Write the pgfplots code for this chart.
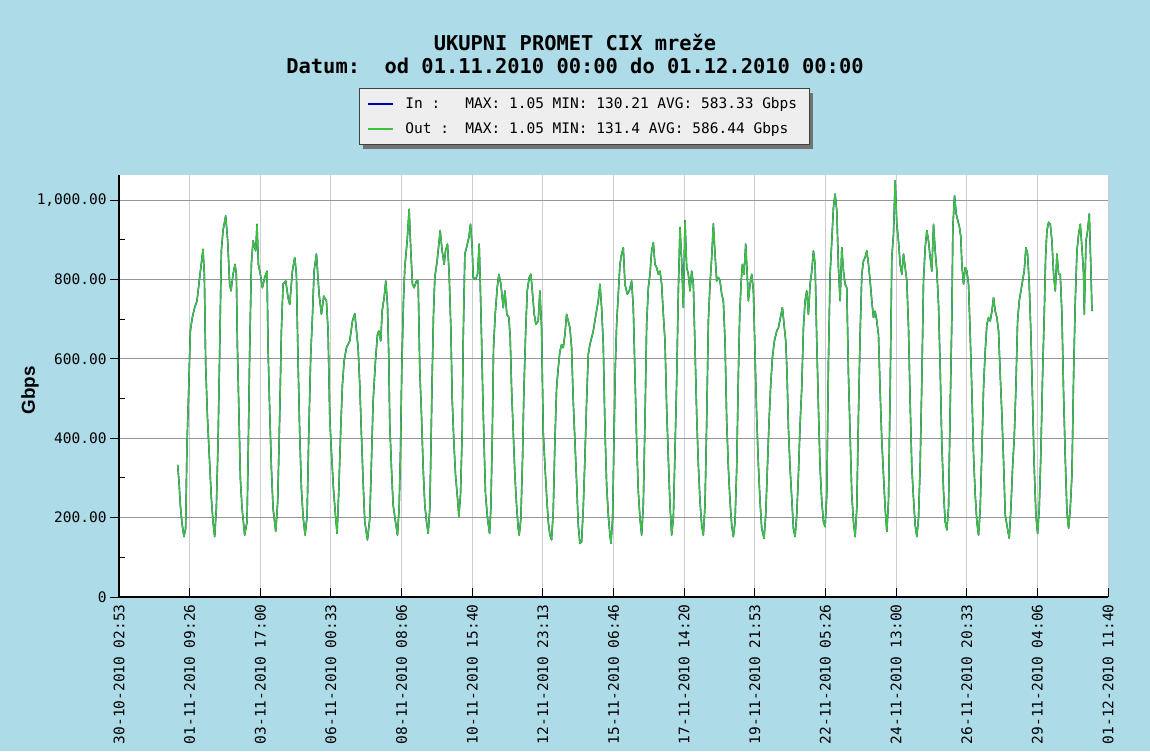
\documentclass[border=0pt]{standalone}
\usepackage{pgfplots}
\pgfplotsset{compat=1.18}
\usepackage{pgfplotstable}
\usepackage{fontspec}
\usetikzlibrary{shadows}
\newfontfamily\mono{DejaVu Sans Mono}
\newfontfamily\arial{Liberation Sans}
\definecolor{bgblue}{RGB}{173,219,232}
\definecolor{inblue}{RGB}{0,0,170}
\definecolor{outgreen}{RGB}{60,195,60}
\definecolor{hgrid}{RGB}{150,150,150}
\definecolor{vgrid}{RGB}{205,205,205}
\definecolor{legfill}{RGB}{238,238,238}
\makeatletter
\tikzset{no preactions/.code={\let\tikz@preactions\pgfutil@empty}}
\makeatother

% Hours since 01-11-2010 00:00, traffic in Gbps (In and Out nearly identical)
\pgfplotstableread{
h v
0.00 333
1.05 291
2.10 232
3.41 186
4.98 152
6.30 173
7.35 384
8.66 518
9.97 670
11.54 704
13.38 729
15.22 746
17.31 805
18.89 847
19.94 876
20.99 813
22.04 586
23.35 459
25.18 337
26.50 249
27.81 190
29.12 152
30.43 224
31.74 384
33.05 619
34.37 872
35.68 923
37.78 960
39.35 897
40.92 788
41.97 771
43.55 813
45.12 838
46.17 813
46.96 636
48.27 451
49.32 299
50.63 224
52.73 156
54.57 190
55.61 392
56.66 619
57.98 838
59.29 897
61.39 872
62.43 939
63.48 838
65.06 813
66.63 779
68.47 805
70.30 821
71.09 628
72.40 468
73.72 325
75.03 224
77.13 165
78.70 241
80.27 459
81.59 670
82.90 788
85.00 796
86.83 754
88.14 737
90.24 821
92.08 855
93.39 813
94.70 594
96.01 409
97.32 274
98.64 203
100.21 156
101.78 203
103.10 409
104.67 611
105.98 704
107.29 821
109.13 864
111.23 763
113.06 712
114.90 758
117.00 746
118.31 670
119.62 451
121.20 350
122.51 274
124.08 207
125.39 160
126.71 266
128.28 426
129.59 535
130.90 594
132.74 628
135.36 645
137.46 695
139.30 714
141.91 628
143.22 535
144.54 409
145.85 291
147.16 190
149.26 144
151.09 198
152.41 341
153.72 493
155.55 594
157.13 661
158.18 670
159.75 645
160.80 720
162.37 754
163.69 796
165.00 737
166.00 610
166.83 434
168.15 325
169.46 232
171.29 190
172.87 156
174.18 224
175.23 367
176.28 577
177.59 746
178.64 830
180.48 897
182.05 977
183.36 872
184.67 788
185.99 779
187.82 796
189.13 796
190.45 569
191.76 459
193.07 325
194.38 232
195.69 190
197.02 160
198.31 224
199.10 358
200.15 552
201.20 712
202.25 805
204.09 847
205.66 897
206.45 923
208.02 872
209.59 838
210.64 872
212.22 889
213.53 813
214.84 678
215.89 501
217.20 392
218.51 308
220.09 249
221.14 203
222.45 258
223.76 413
224.55 645
225.86 864
227.17 880
229.01 906
230.32 939
231.63 880
232.42 805
234.25 800
235.83 813
237.14 889
237.93 796
238.98 653
240.02 501
241.07 375
242.12 258
243.70 198
245.27 160
246.32 224
247.37 392
248.42 628
249.73 712
251.31 779
252.62 813
254.19 788
256.03 729
257.34 771
258.92 712
260.49 704
261.54 653
262.59 527
263.90 417
265.21 308
266.52 232
267.83 173
268.62 156
269.93 198
271.24 350
272.29 518
273.60 661
274.91 771
276.49 805
277.80 813
279.11 763
280.42 712
281.74 687
283.57 695
284.88 771
286.19 678
287.50 417
288.81 333
290.13 258
291.44 190
292.75 156
294.06 144
295.37 215
296.68 392
298.00 527
299.31 577
300.62 619
301.93 636
303.24 628
304.55 661
305.87 712
307.18 695
308.49 678
309.80 628
311.11 493
312.42 392
313.74 291
315.05 181
316.36 135
317.67 139
318.98 224
320.29 350
321.61 493
322.92 611
324.23 636
326.85 670
328.95 712
330.79 746
332.10 788
333.41 729
334.72 636
336.03 426
337.35 283
338.66 207
339.97 156
340.76 135
342.07 198
343.12 392
344.17 577
345.22 687
346.53 763
347.84 838
349.15 864
350.46 880
351.77 788
353.61 763
355.18 771
357.02 796
358.33 729
359.64 560
360.96 392
362.27 266
363.58 198
364.89 156
366.20 232
367.51 443
368.83 687
370.14 779
371.45 813
372.76 872
374.07 893
375.38 838
376.70 830
378.01 813
379.32 821
380.63 788
381.94 712
383.25 645
384.57 476
385.88 350
387.19 232
388.50 156
389.81 198
391.12 367
392.44 544
393.75 771
395.06 931
396.37 847
397.68 729
398.99 948
400.31 830
401.62 813
402.93 771
404.24 821
405.55 788
406.86 628
408.18 459
409.49 333
410.80 241
412.11 181
413.42 156
414.73 232
416.05 443
417.36 695
418.67 788
419.98 855
421.29 940
422.60 864
423.92 796
425.23 805
426.54 796
427.85 763
429.16 746
430.47 645
431.78 443
433.09 325
434.40 241
435.72 181
437.03 152
438.34 190
439.65 325
440.96 560
442.01 712
443.06 788
444.11 838
445.42 813
446.73 889
447.78 821
448.83 746
450.14 788
451.46 813
452.77 771
454.08 611
455.39 451
456.70 333
458.01 241
459.33 173
461.16 148
462.47 207
463.79 325
465.10 443
466.41 535
467.72 603
469.29 645
471.13 670
472.44 678
474.54 712
475.59 729
477.16 678
478.21 645
479.26 560
480.31 426
481.62 325
482.94 249
484.25 173
485.56 152
486.87 207
488.18 308
489.49 434
490.81 527
492.12 678
493.43 746
494.74 771
496.05 712
497.36 788
498.68 821
499.99 872
501.30 838
502.61 645
503.92 476
505.23 325
506.55 241
507.86 190
509.17 177
510.48 258
511.79 594
513.10 813
514.42 897
515.73 981
517.04 1015
518.35 973
519.66 830
520.97 746
522.29 880
523.60 821
524.91 788
526.22 779
527.53 560
528.84 409
530.16 258
531.47 190
532.78 152
534.09 224
535.40 459
536.71 661
538.03 813
539.34 847
540.65 855
541.96 872
543.27 838
544.58 796
545.90 746
547.21 704
548.52 720
549.83 695
551.14 661
552.45 518
553.77 392
555.08 308
556.39 224
557.70 165
559.01 241
560.32 518
561.64 855
562.95 914
564.26 1049
565.57 939
566.88 897
568.19 838
569.51 813
570.82 864
572.13 830
573.44 796
574.75 678
576.06 490
577.37 325
578.68 249
579.99 181
581.31 152
582.62 198
583.93 333
585.24 544
586.55 796
587.86 880
589.18 923
590.49 897
591.80 855
593.11 821
594.42 939
595.73 872
597.05 821
598.36 737
599.67 577
600.98 384
602.29 266
603.60 190
604.92 169
606.23 224
607.54 476
608.85 704
609.64 931
610.95 1011
612.26 965
613.57 948
614.88 931
615.93 906
616.72 838
618.03 788
619.34 830
620.65 821
621.96 788
623.28 661
624.59 518
625.90 358
627.21 258
628.52 190
629.83 156
631.15 224
632.46 367
633.77 527
635.08 619
636.39 687
637.70 704
639.02 695
640.33 720
641.64 754
642.95 720
644.26 704
645.57 670
646.89 560
648.20 459
649.51 341
650.82 207
652.13 181
653.97 148
655.28 224
656.59 325
657.90 400
659.22 527
660.53 695
661.84 746
663.15 771
664.46 796
665.77 821
667.09 880
668.40 864
669.71 788
671.02 661
672.33 493
673.64 325
674.96 207
676.27 160
677.58 224
678.89 367
680.20 560
681.51 712
682.56 855
683.61 923
684.92 944
686.23 939
687.55 897
688.86 813
690.17 771
691.48 864
692.79 813
694.10 813
695.42 712
696.73 510
698.04 350
699.35 215
700.66 173
701.97 224
703.29 308
704.60 560
705.91 746
707.22 872
708.53 914
709.84 939
711.16 880
712.47 813
712.99 712
714.31 897
715.62 923
716.93 965
718.24 821
719.03 720
}\cixdata

\begin{document}
\begin{tikzpicture}
\fill[bgblue] (0pt,0pt) rectangle (575pt,375.5pt);
\begin{axis}[
  at={(59.5pt,77pt)}, anchor=south west,
  scale only axis, width=494.5pt, height=211pt,
  xmin=-46.122, xmax=731.656, ymin=0, ymax=1063,
  axis background/.style={fill=white},
  axis x line*=bottom, axis y line*=left,
  axis line style={black, line width=0.6pt},
  xtick={-46.122,9.433,64.989,120.544,176.100,231.656,287.211,342.767,398.322,453.878,509.433,564.989,620.544,676.100,731.656},
  xticklabels={30-10-2010 02:53,01-11-2010 09:26,03-11-2010 17:00,06-11-2010 00:33,08-11-2010 08:06,10-11-2010 15:40,12-11-2010 23:13,15-11-2010 06:46,17-11-2010 14:20,19-11-2010 21:53,22-11-2010 05:26,24-11-2010 13:00,26-11-2010 20:33,29-11-2010 04:06,01-12-2010 11:40},
  ytick={0,200,400,600,800,1000},
  yticklabels={0,200.00,400.00,600.00,800.00,{1,000.00}},
  minor ytick={100,300,500,700,900},
  xtick align=inside, ytick align=outside,
  major tick length=4.5pt, minor tick length=-3pt,
  tick style={black, line width=0.5pt},
  xmajorgrids, ymajorgrids,
  x grid style={vgrid, line width=0.5pt},
  y grid style={hgrid, line width=0.5pt},
  ticklabel style={font=\mono\fontsize{7.25}{9}\selectfont, inner sep=0pt},
  xticklabel style={rotate=90, anchor=east},
  xticklabel shift=3.5pt,
  yticklabel shift=1.5pt,
  ylabel={Gbps},
  every axis y label/.style={at={(axis description cs:-0.09,0.49)}, rotate=90, anchor=center, font=\arial\bfseries\fontsize{9.4}{11}\selectfont},
  legend style={
    at={(axis description cs:0.4705,1.206)}, anchor=north,
    font=\mono\fontsize{7.25}{9}\selectfont,
    fill=legfill, draw=black!75, line width=0.5pt,
    drop shadow={shadow xshift=2pt, shadow yshift=-2pt, fill=black!55, opacity=1},
    legend cell align=left,
    inner xsep=4pt, inner ysep=3.25pt,
    row sep=3.5pt,
    nodes={inner sep=1pt, text height=5.5pt, text depth=1.5pt},
    /tikz/every odd column/.append style={column sep=4.5pt},
  },
  legend image code/.code={\draw[no preactions, #1, line width=1pt] (0pt,0pt) -- (12.5pt,0pt);},
  no markers,
]
\addplot[draw=inblue, line width=0.7pt, line join=round] table[x=h,y=v]{\cixdata};
\addplot[draw=outgreen, line width=0.7pt, line join=round] table[x=h,y=v]{\cixdata};
\legend{\makebox[30pt][l]{In :}MAX: 1.05 MIN: 130.21 AVG: 583.33 Gbps\hspace*{1pt},
        \makebox[30pt][l]{Out :}MAX: 1.05 MIN: 131.4 AVG: 586.44 Gbps}
\end{axis}
\node[font=\mono\bfseries\fontsize{10.2}{12}\selectfont, inner sep=0pt] at (287.5pt,354.5pt) {UKUPNI PROMET CIX mreže};
\node[font=\mono\bfseries\fontsize{10.2}{12}\selectfont, inner sep=0pt] at (287.5pt,342.5pt) {Datum:\ \ od 01.11.2010 00:00 do 01.12.2010 00:00};
\pgfresetboundingbox
\path[use as bounding box] (0pt,0pt) rectangle (575pt,375.5pt);
\end{tikzpicture}
\end{document}
